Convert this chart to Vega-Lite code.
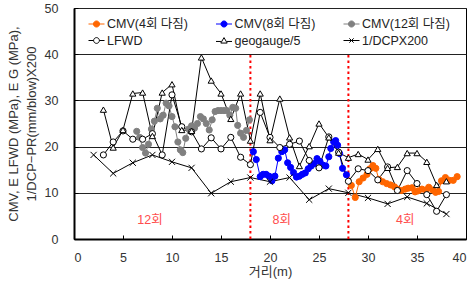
{
  "$schema": "https://vega.github.io/schema/vega-lite/v6.json",
  "width": 392,
  "height": 231,
  "autosize": {"type": "none"},
  "padding": {"left": 74, "top": 8, "right": 7, "bottom": 43},
  "background": "white",
  "config": {
    "font": "Liberation Sans, Noto Sans CJK KR",
    "view": {"stroke": "black", "strokeWidth": 1},
    "axis": {"labelFontSize": 12.5, "labelColor": "#333", "titleFontSize": 13, "titleFontWeight": "normal", "titleColor": "#333", "domainColor": "black", "domainWidth": 2, "tickColor": "black", "tickSize": -4, "gridColor": "#222", "gridWidth": 1, "gridOpacity": 1},
    "legend": {"title": null, "orient": "none", "legendX": 14, "legendY": 7.5, "columns": 3, "direction": "horizontal", "padding": 0, "columnPadding": 24.5, "rowPadding": 1.5, "symbolSize": 256, "symbolStrokeWidth": 1, "labelFontSize": 12.5, "labelColor": "#222", "labelOffset": 2, "labelLimit": 200}
  },
  "resolve": {"scale": {"stroke": "independent", "fill": "independent", "shape": "independent", "size": "independent"}},
  "datasets": {
    "pts": [
      {"s": "CMV(4회 다짐)", "x": 28.3, "y": 11.6}, {"s": "CMV(4회 다짐)", "x": 28.7, "y": 9.0}, {"s": "CMV(4회 다짐)", "x": 29.1, "y": 12.4}, {"s": "CMV(4회 다짐)", "x": 29.5, "y": 13.2}, {"s": "CMV(4회 다짐)", "x": 29.9, "y": 14.0}, {"s": "CMV(4회 다짐)", "x": 30.2, "y": 15.2}, {"s": "CMV(4회 다짐)", "x": 30.5, "y": 15.9}, {"s": "CMV(4회 다짐)", "x": 30.8, "y": 15.3}, {"s": "CMV(4회 다짐)", "x": 31.1, "y": 12.9}, {"s": "CMV(4회 다짐)", "x": 31.5, "y": 12.4}, {"s": "CMV(4회 다짐)", "x": 31.9, "y": 12.0}, {"s": "CMV(4회 다짐)", "x": 32.3, "y": 11.7}, {"s": "CMV(4회 다짐)", "x": 32.7, "y": 11.3}, {"s": "CMV(4회 다짐)", "x": 33.0, "y": 10.8}, {"s": "CMV(4회 다짐)", "x": 33.4, "y": 10.5}, {"s": "CMV(4회 다짐)", "x": 33.8, "y": 10.8}, {"s": "CMV(4회 다짐)", "x": 34.1, "y": 11.0}, {"s": "CMV(4회 다짐)", "x": 34.5, "y": 11.1}, {"s": "CMV(4회 다짐)", "x": 34.8, "y": 10.2}, {"s": "CMV(4회 다짐)", "x": 35.1, "y": 10.4}, {"s": "CMV(4회 다짐)", "x": 35.5, "y": 10.8}, {"s": "CMV(4회 다짐)", "x": 35.9, "y": 10.6}, {"s": "CMV(4회 다짐)", "x": 36.2, "y": 11.2}, {"s": "CMV(4회 다짐)", "x": 36.6, "y": 10.6}, {"s": "CMV(4회 다짐)", "x": 36.9, "y": 10.1}, {"s": "CMV(4회 다짐)", "x": 37.2, "y": 10.3}, {"s": "CMV(4회 다짐)", "x": 37.5, "y": 12.6}, {"s": "CMV(4회 다짐)", "x": 37.9, "y": 13.3}, {"s": "CMV(4회 다짐)", "x": 38.3, "y": 12.7}, {"s": "CMV(4회 다짐)", "x": 38.7, "y": 12.7}, {"s": "CMV(4회 다짐)", "x": 39.1, "y": 13.5},
      {"s": "CMV(8회 다짐)", "x": 18.3, "y": 18.9}, {"s": "CMV(8회 다짐)", "x": 18.6, "y": 17.2}, {"s": "CMV(8회 다짐)", "x": 19.0, "y": 13.5}, {"s": "CMV(8회 다짐)", "x": 19.3, "y": 14.0}, {"s": "CMV(8회 다짐)", "x": 19.6, "y": 14.0}, {"s": "CMV(8회 다짐)", "x": 19.9, "y": 13.6}, {"s": "CMV(8회 다짐)", "x": 20.2, "y": 12.6}, {"s": "CMV(8회 다짐)", "x": 20.5, "y": 13.6}, {"s": "CMV(8회 다짐)", "x": 20.85, "y": 17.5}, {"s": "CMV(8회 다짐)", "x": 21.2, "y": 18.9}, {"s": "CMV(8회 다짐)", "x": 21.5, "y": 19.3}, {"s": "CMV(8회 다짐)", "x": 21.8, "y": 16.5}, {"s": "CMV(8회 다짐)", "x": 22.1, "y": 15.5}, {"s": "CMV(8회 다짐)", "x": 22.4, "y": 14.4}, {"s": "CMV(8회 다짐)", "x": 22.7, "y": 13.4}, {"s": "CMV(8회 다짐)", "x": 23.0, "y": 13.6}, {"s": "CMV(8회 다짐)", "x": 23.3, "y": 14.0}, {"s": "CMV(8회 다짐)", "x": 23.6, "y": 14.3}, {"s": "CMV(8회 다짐)", "x": 23.9, "y": 15.2}, {"s": "CMV(8회 다짐)", "x": 24.2, "y": 15.8}, {"s": "CMV(8회 다짐)", "x": 24.5, "y": 16.3}, {"s": "CMV(8회 다짐)", "x": 24.8, "y": 17.4}, {"s": "CMV(8회 다짐)", "x": 25.1, "y": 16.8}, {"s": "CMV(8회 다짐)", "x": 25.4, "y": 16.0}, {"s": "CMV(8회 다짐)", "x": 25.7, "y": 15.8}, {"s": "CMV(8회 다짐)", "x": 26.0, "y": 17.8}, {"s": "CMV(8회 다짐)", "x": 26.2, "y": 19.6}, {"s": "CMV(8회 다짐)", "x": 26.5, "y": 21.0}, {"s": "CMV(8회 다짐)", "x": 26.7, "y": 21.3}, {"s": "CMV(8회 다짐)", "x": 26.9, "y": 20.3}, {"s": "CMV(8회 다짐)", "x": 27.1, "y": 18.5}, {"s": "CMV(8회 다짐)", "x": 27.4, "y": 15.3}, {"s": "CMV(8회 다짐)", "x": 27.8, "y": 13.9},
      {"s": "CMV(12회 다짐)", "x": 6.4, "y": 23.3}, {"s": "CMV(12회 다짐)", "x": 6.7, "y": 22.0}, {"s": "CMV(12회 다짐)", "x": 7.0, "y": 19.8}, {"s": "CMV(12회 다짐)", "x": 7.3, "y": 18.6}, {"s": "CMV(12회 다짐)", "x": 7.6, "y": 20.5}, {"s": "CMV(12회 다짐)", "x": 7.9, "y": 23.8}, {"s": "CMV(12회 다짐)", "x": 8.2, "y": 25.5}, {"s": "CMV(12회 다짐)", "x": 8.5, "y": 28.3}, {"s": "CMV(12회 다짐)", "x": 8.8, "y": 26.0}, {"s": "CMV(12회 다짐)", "x": 9.1, "y": 26.8}, {"s": "CMV(12회 다짐)", "x": 9.4, "y": 29.4}, {"s": "CMV(12회 다짐)", "x": 9.7, "y": 28.8}, {"s": "CMV(12회 다짐)", "x": 10.0, "y": 26.5}, {"s": "CMV(12회 다짐)", "x": 10.3, "y": 24.3}, {"s": "CMV(12회 다짐)", "x": 10.6, "y": 21.0}, {"s": "CMV(12회 다짐)", "x": 10.85, "y": 19.3}, {"s": "CMV(12회 다짐)", "x": 11.1, "y": 18.7}, {"s": "CMV(12회 다짐)", "x": 11.4, "y": 21.8}, {"s": "CMV(12회 다짐)", "x": 11.7, "y": 23.8}, {"s": "CMV(12회 다짐)", "x": 12.0, "y": 24.5}, {"s": "CMV(12회 다짐)", "x": 12.3, "y": 24.0}, {"s": "CMV(12회 다짐)", "x": 12.6, "y": 25.0}, {"s": "CMV(12회 다짐)", "x": 12.9, "y": 26.5}, {"s": "CMV(12회 다짐)", "x": 13.2, "y": 26.0}, {"s": "CMV(12회 다짐)", "x": 13.5, "y": 25.0}, {"s": "CMV(12회 다짐)", "x": 13.8, "y": 23.6}, {"s": "CMV(12회 다짐)", "x": 14.1, "y": 25.8}, {"s": "CMV(12회 다짐)", "x": 14.4, "y": 27.6}, {"s": "CMV(12회 다짐)", "x": 14.7, "y": 27.8}, {"s": "CMV(12회 다짐)", "x": 15.0, "y": 27.8}, {"s": "CMV(12회 다짐)", "x": 15.3, "y": 27.8}, {"s": "CMV(12회 다짐)", "x": 15.6, "y": 27.8}, {"s": "CMV(12회 다짐)", "x": 15.9, "y": 26.8}, {"s": "CMV(12회 다짐)", "x": 16.2, "y": 28.5}, {"s": "CMV(12회 다짐)", "x": 16.5, "y": 28.3}, {"s": "CMV(12회 다짐)", "x": 16.7, "y": 24.6}, {"s": "CMV(12회 다짐)", "x": 17.0, "y": 22.9}, {"s": "CMV(12회 다짐)", "x": 17.3, "y": 22.0}, {"s": "CMV(12회 다짐)", "x": 17.6, "y": 23.5}, {"s": "CMV(12회 다짐)", "x": 17.9, "y": 25.8},
      {"s": "LFWD", "x": 3, "y": 18.2}, {"s": "LFWD", "x": 4, "y": 21.0}, {"s": "LFWD", "x": 5, "y": 23.4}, {"s": "LFWD", "x": 6, "y": 21.6}, {"s": "LFWD", "x": 7, "y": 21.6}, {"s": "LFWD", "x": 8, "y": 22.8}, {"s": "LFWD", "x": 9, "y": 18.2}, {"s": "LFWD", "x": 10, "y": 31.2}, {"s": "LFWD", "x": 11, "y": 24.3}, {"s": "LFWD", "x": 12, "y": 23.2}, {"s": "LFWD", "x": 13, "y": 19.5}, {"s": "LFWD", "x": 14, "y": 21.9}, {"s": "LFWD", "x": 15, "y": 19.5}, {"s": "LFWD", "x": 16, "y": 22.0}, {"s": "LFWD", "x": 17, "y": 17.7}, {"s": "LFWD", "x": 18, "y": 16.1}, {"s": "LFWD", "x": 19, "y": 27.4}, {"s": "LFWD", "x": 20, "y": 22.0}, {"s": "LFWD", "x": 21, "y": 19.8}, {"s": "LFWD", "x": 22, "y": 20.5}, {"s": "LFWD", "x": 23, "y": 21.2}, {"s": "LFWD", "x": 24, "y": 17.0}, {"s": "LFWD", "x": 25, "y": 15.4}, {"s": "LFWD", "x": 26, "y": 22.1}, {"s": "LFWD", "x": 27, "y": 18.8}, {"s": "LFWD", "x": 28, "y": 12.5}, {"s": "LFWD", "x": 29, "y": 15.2}, {"s": "LFWD", "x": 30, "y": 14.8}, {"s": "LFWD", "x": 31, "y": 12.8}, {"s": "LFWD", "x": 32, "y": 15.6}, {"s": "LFWD", "x": 33, "y": 10.5}, {"s": "LFWD", "x": 34, "y": 14.8}, {"s": "LFWD", "x": 35, "y": 12.0}, {"s": "LFWD", "x": 36, "y": 9.6}, {"s": "LFWD", "x": 37, "y": 6.0}, {"s": "LFWD", "x": 38, "y": 9.6},
      {"s": "geogauge/5", "x": 3, "y": 28.0}, {"s": "geogauge/5", "x": 4, "y": 19.8}, {"s": "geogauge/5", "x": 5, "y": 23.6}, {"s": "geogauge/5", "x": 6, "y": 31.5}, {"s": "geogauge/5", "x": 7, "y": 31.7}, {"s": "geogauge/5", "x": 8, "y": 22.3}, {"s": "geogauge/5", "x": 9, "y": 31.7}, {"s": "geogauge/5", "x": 10, "y": 33.5}, {"s": "geogauge/5", "x": 11, "y": 23.6}, {"s": "geogauge/5", "x": 12, "y": 23.4}, {"s": "geogauge/5", "x": 13, "y": 39.3}, {"s": "geogauge/5", "x": 14, "y": 34.3}, {"s": "geogauge/5", "x": 15, "y": 31.5}, {"s": "geogauge/5", "x": 16, "y": 26.0}, {"s": "geogauge/5", "x": 17, "y": 31.5}, {"s": "geogauge/5", "x": 18, "y": 21.3}, {"s": "geogauge/5", "x": 19, "y": 31.5}, {"s": "geogauge/5", "x": 20, "y": 21.4}, {"s": "geogauge/5", "x": 21, "y": 30.4}, {"s": "geogauge/5", "x": 22, "y": 22.0}, {"s": "geogauge/5", "x": 23, "y": 15.8}, {"s": "geogauge/5", "x": 24, "y": 20.1}, {"s": "geogauge/5", "x": 25, "y": 25.0}, {"s": "geogauge/5", "x": 26, "y": 22.0}, {"s": "geogauge/5", "x": 27, "y": 18.7}, {"s": "geogauge/5", "x": 28, "y": 17.6}, {"s": "geogauge/5", "x": 29, "y": 18.4}, {"s": "geogauge/5", "x": 30, "y": 17.2}, {"s": "geogauge/5", "x": 31, "y": 19.5}, {"s": "geogauge/5", "x": 32, "y": 15.4}, {"s": "geogauge/5", "x": 33, "y": 15.6}, {"s": "geogauge/5", "x": 34, "y": 18.6}, {"s": "geogauge/5", "x": 35, "y": 18.6}, {"s": "geogauge/5", "x": 36, "y": 16.7}, {"s": "geogauge/5", "x": 37, "y": 11.7}, {"s": "geogauge/5", "x": 38, "y": 12.5},
      {"s": "1/DCPX200", "x": 2, "y": 18.2}, {"s": "1/DCPX200", "x": 4, "y": 14.2}, {"s": "1/DCPX200", "x": 6, "y": 16.5}, {"s": "1/DCPX200", "x": 8, "y": 18.2}, {"s": "1/DCPX200", "x": 10, "y": 16.7}, {"s": "1/DCPX200", "x": 12, "y": 15.4}, {"s": "1/DCPX200", "x": 14, "y": 9.9}, {"s": "1/DCPX200", "x": 16, "y": 12.4}, {"s": "1/DCPX200", "x": 18, "y": 13.3}, {"s": "1/DCPX200", "x": 20, "y": 12.4}, {"s": "1/DCPX200", "x": 22, "y": 13.3}, {"s": "1/DCPX200", "x": 24, "y": 8.5}, {"s": "1/DCPX200", "x": 26, "y": 10.9}, {"s": "1/DCPX200", "x": 28, "y": 10.0}, {"s": "1/DCPX200", "x": 30, "y": 8.9}, {"s": "1/DCPX200", "x": 32, "y": 7.6}, {"s": "1/DCPX200", "x": 34, "y": 9.1}, {"s": "1/DCPX200", "x": 36, "y": 7.7}, {"s": "1/DCPX200", "x": 38, "y": 5.4}
    ]
  },
  "layer": [
    {
      "data": {"values": [{"x": 18}, {"x": 28}]},
      "mark": {"type": "rule", "color": "#ff0000", "strokeWidth": 2, "strokeDash": [2.5, 3]},
      "encoding": {
        "x": {"field": "x", "type": "quantitative", "scale": {"domain": [0, 40], "nice": false, "zero": false}, "axis": {"values": [0, 5, 10, 15, 20, 25, 30, 35, 40], "grid": false, "title": "거리(m)", "labelPadding": 16, "titlePadding": 2}},
        "y": {"datum": 0, "type": "quantitative", "scale": {"domain": [0, 50], "nice": false}, "axis": {"values": [0, 10, 20, 30, 40, 50], "grid": true, "labelPadding": 20, "titlePadding": 6, "titleLineHeight": 18, "title": ["CMV, E LFWD (MPa), E G (MPa),", "1/DCP−PR(mm/blow)X200"]}},
        "y2": {"datum": 40}
      }
    },
    {
      "data": {"name": "pts"},
      "mark": {"type": "line", "strokeWidth": 1},
      "encoding": {
        "x": {"field": "x", "type": "quantitative"},
        "y": {"field": "y", "type": "quantitative"},
        "detail": {"field": "s"},
        "stroke": {"field": "s", "type": "nominal", "legend": null,
          "scale": {"domain": ["CMV(4회 다짐)", "CMV(8회 다짐)", "CMV(12회 다짐)", "LFWD", "geogauge/5", "1/DCPX200"], "range": ["#ff6600", "#0000ff", "#808080", "#000000", "#000000", "#000000"]}}
      }
    },
    {
      "data": {"name": "pts"},
      "mark": {"type": "point", "opacity": 1, "strokeWidth": 1, "filled": false},
      "encoding": {
        "x": {"field": "x", "type": "quantitative"},
        "y": {"field": "y", "type": "quantitative"},
        "stroke": {"field": "s", "type": "nominal", "legend": null,
          "scale": {"domain": ["CMV(4회 다짐)", "CMV(8회 다짐)", "CMV(12회 다짐)", "LFWD", "geogauge/5", "1/DCPX200"], "range": ["#ff6600", "#0000ff", "#808080", "#000000", "#000000", "#000000"]}},
        "fill": {"field": "s", "type": "nominal", "legend": null,
          "scale": {"domain": ["CMV(4회 다짐)", "CMV(8회 다짐)", "CMV(12회 다짐)", "LFWD", "geogauge/5", "1/DCPX200"], "range": ["#ff6600", "#0000ff", "#808080", "#ffffff", "#ffffff", "#ffffff"]}},
        "shape": {"field": "s", "type": "nominal", "legend": null,
          "scale": {"domain": ["CMV(4회 다짐)", "CMV(8회 다짐)", "CMV(12회 다짐)", "LFWD", "geogauge/5", "1/DCPX200"], "range": ["circle", "circle", "circle", "circle", "triangle-up", "M-1,-1L1,1M-1,1L1,-1"]}},
        "size": {"field": "s", "type": "nominal", "legend": null,
          "scale": {"domain": ["CMV(4회 다짐)", "CMV(8회 다짐)", "CMV(12회 다짐)", "LFWD", "geogauge/5", "1/DCPX200"], "range": [38, 38, 38, 30, 34, 22]}}
      }
    },
    {
      "data": {"name": "pts"},
      "transform": [{"filter": "false"}],
      "mark": {"type": "point", "opacity": 1, "strokeWidth": 1, "filled": false},
      "encoding": {
        "x": {"field": "x", "type": "quantitative"},
        "y": {"field": "y", "type": "quantitative"},
        "stroke": {"field": "s", "type": "nominal",
          "scale": {"domain": ["CMV(4회 다짐)", "CMV(8회 다짐)", "CMV(12회 다짐)", "LFWD", "geogauge/5", "1/DCPX200"], "range": ["#ff6600", "#0000ff", "#808080", "#000000", "#000000", "#000000"]}},
        "fill": {"field": "s", "type": "nominal",
          "scale": {"domain": ["CMV(4회 다짐)", "CMV(8회 다짐)", "CMV(12회 다짐)", "LFWD", "geogauge/5", "1/DCPX200"], "range": ["#ff6600", "#0000ff", "#808080", "#ffffff", "#ffffff", "#ffffff"]}},
        "shape": {"field": "s", "type": "nominal",
          "scale": {"domain": ["CMV(4회 다짐)", "CMV(8회 다짐)", "CMV(12회 다짐)", "LFWD", "geogauge/5", "1/DCPX200"], "range": [
            "M-1,0H-0.38M0.38,0H1M0.38,0A0.38,0.38,0,1,1,-0.38,0A0.38,0.38,0,1,1,0.38,0Z",
            "M-1,0H-0.38M0.38,0H1M0.38,0A0.38,0.38,0,1,1,-0.38,0A0.38,0.38,0,1,1,0.38,0Z",
            "M-1,0H-0.38M0.38,0H1M0.38,0A0.38,0.38,0,1,1,-0.38,0A0.38,0.38,0,1,1,0.38,0Z",
            "M-1,0H-0.36M0.36,0H1M0.36,0A0.36,0.36,0,1,1,-0.36,0A0.36,0.36,0,1,1,0.36,0Z",
            "M-1,0.12H-0.38M0.38,0.12H1M0,-0.36L0.4,0.32L-0.4,0.32Z",
            "M-1,0H1M-0.27,-0.27L0.27,0.27M-0.27,0.27L0.27,-0.27"]}}
      }
    },
    {
      "data": {"values": [{"t": "12회", "x": 7.75, "y": 4.1}, {"t": "8회", "x": 21.2, "y": 4.1}, {"t": "4회", "x": 33.8, "y": 4.1}]},
      "mark": {"type": "text", "color": "#ff4d4d", "fontSize": 12.5, "align": "center", "baseline": "middle"},
      "encoding": {
        "x": {"field": "x", "type": "quantitative"},
        "y": {"field": "y", "type": "quantitative"},
        "text": {"field": "t"}
      }
    }
  ]
}
